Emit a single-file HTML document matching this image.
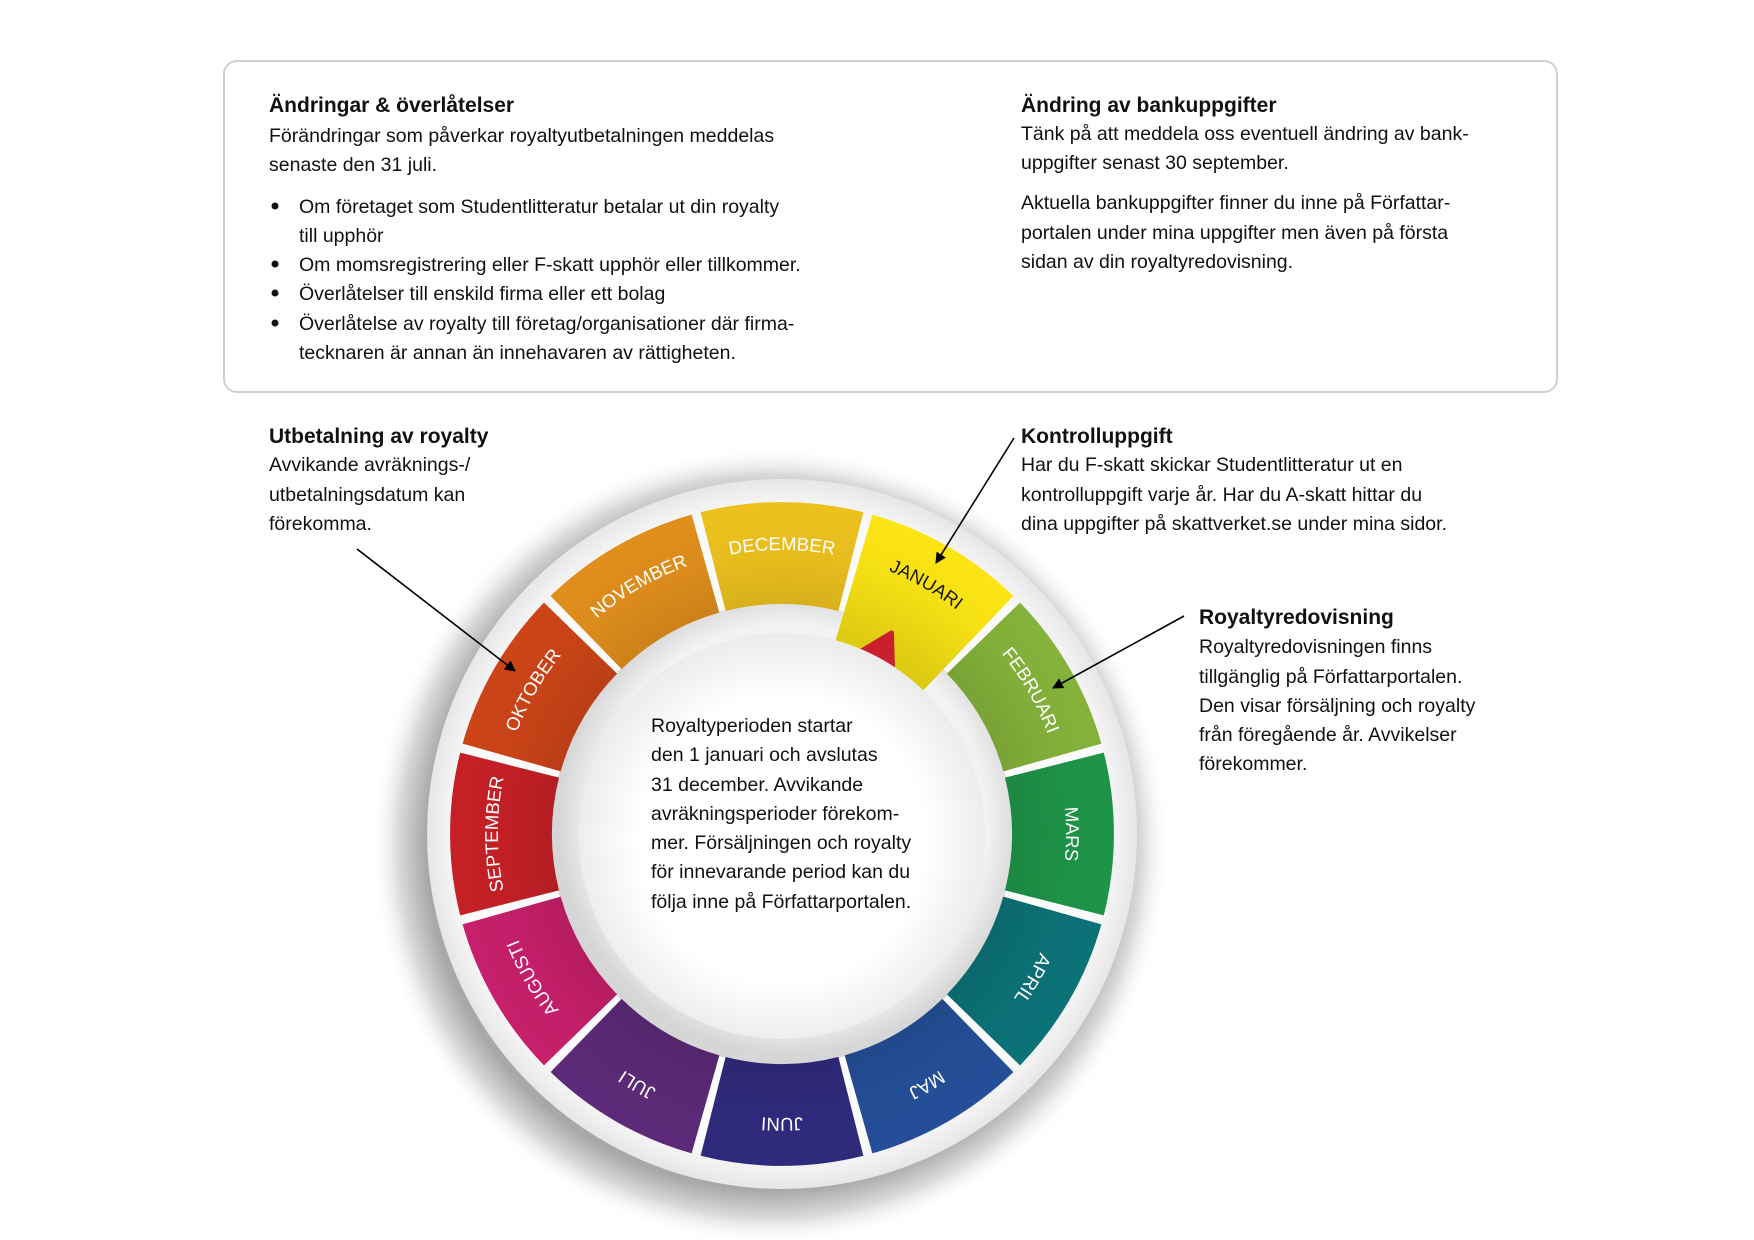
<!DOCTYPE html>
<html><head><meta charset="utf-8"><style>
html,body{margin:0;padding:0;background:#fff}
svg{display:block}
text{font-family:"Liberation Sans",sans-serif;fill:#111}
.b{font-size:19.5px}
.h{font-size:21px;font-weight:bold}
.m{font-size:18.5px;fill:#fff}
</style></head><body>
<svg width="1754" height="1240" viewBox="0 0 1754 1240" xmlns="http://www.w3.org/2000/svg">
<defs>
<radialGradient id="sh" gradientUnits="userSpaceOnUse" cx="770" cy="846" r="400">
<stop offset="0.86" stop-color="#a8a8a8"/><stop offset="0.93" stop-color="#dadada"/><stop offset="1" stop-color="#fff" stop-opacity="0"/>
</radialGradient>
<radialGradient id="ring" gradientUnits="userSpaceOnUse" cx="782" cy="834" r="356">
<stop offset="0.9" stop-color="#fbfbfb"/><stop offset="1" stop-color="#e6e6e6"/>
</radialGradient>
<radialGradient id="shade" gradientUnits="userSpaceOnUse" cx="782" cy="834" r="332">
<stop offset="0.62" stop-color="#000" stop-opacity="0.12"/><stop offset="0.85" stop-color="#000" stop-opacity="0.02"/><stop offset="1" stop-color="#000" stop-opacity="0"/>
</radialGradient>
<radialGradient id="gray" gradientUnits="userSpaceOnUse" cx="790" cy="822" r="232">
<stop offset="0.85" stop-color="#f2f2f2"/><stop offset="1" stop-color="#d6d6d6"/>
</radialGradient>
<radialGradient id="disc" gradientUnits="userSpaceOnUse" cx="782" cy="840" r="205">
<stop offset="0.7" stop-color="#fff"/><stop offset="1" stop-color="#ececec"/>
</radialGradient>
<path id="seg" d="M700.6,512.2 A332,332 0 0 1 863.4,512.2 L838.4,611.0 A230,230 0 0 0 725.6,611.0 Z"/>
<path id="segJ" d="M700.6,512.2 A332,332 0 0 1 863.4,512.2 L832.2,640 A200,200 0 0 0 731.8,640 Z"/>
<path id="arc" d="M708.4,559.7 A284,284 0 0 1 855.6,559.7"/>
<marker id="ar" viewBox="0 0 10 10" refX="9" refY="5" markerWidth="11" markerHeight="11" markerUnits="userSpaceOnUse" orient="auto">
<path d="M0,0 L10,5 L0,10 Z" fill="#000"/></marker>
</defs>

<rect x="224" y="61" width="1333" height="331" rx="13" fill="#fff" stroke="#d0d0d0" stroke-width="2"/>
<text class="h" x="269" y="112">Ändringar &amp; överlåtelser</text>
<text class="b" x="269" y="142">Förändringar som påverkar royaltyutbetalningen meddelas</text>
<text class="b" x="269" y="171">senaste den 31 juli.</text>
<circle cx="275" cy="206" r="3.5" fill="#111"/><circle cx="275" cy="264" r="3.5" fill="#111"/><circle cx="275" cy="293" r="3.5" fill="#111"/><circle cx="275" cy="323" r="3.5" fill="#111"/>
<text class="b" x="299" y="213">Om företaget som Studentlitteratur betalar ut din royalty</text>
<text class="b" x="299" y="242">till upphör</text>
<text class="b" x="299" y="271">Om momsregistrering eller F-skatt upphör eller tillkommer.</text>
<text class="b" x="299" y="300">Överlåtelser till enskild firma eller ett bolag</text>
<text class="b" x="299" y="330">Överlåtelse av royalty till företag/organisationer där firma-</text>
<text class="b" x="299" y="359">tecknaren är annan än innehavaren av rättigheten.</text>

<text class="h" x="1021" y="112">Ändring av bankuppgifter</text>
<text class="b" x="1021" y="140">Tänk på att meddela oss eventuell ändring av bank-</text>
<text class="b" x="1021" y="169">uppgifter senast 30 september.</text>
<text class="b" x="1021" y="209">Aktuella bankuppgifter finner du inne på Författar-</text>
<text class="b" x="1021" y="239">portalen under mina uppgifter men även på första</text>
<text class="b" x="1021" y="268">sidan av din royaltyredovisning.</text>

<text class="h" x="269" y="443">Utbetalning av royalty</text>
<text class="b" x="269" y="471">Avvikande avräknings-/</text>
<text class="b" x="269" y="501">utbetalningsdatum kan</text>
<text class="b" x="269" y="530">förekomma.</text>

<text class="h" x="1021" y="443">Kontrolluppgift</text>
<text class="b" x="1021" y="471">Har du F-skatt skickar Studentlitteratur ut en</text>
<text class="b" x="1021" y="501">kontrolluppgift varje år. Har du A-skatt hittar du</text>
<text class="b" x="1021" y="530">dina uppgifter på skattverket.se under mina sidor.</text>

<text class="h" x="1199" y="624">Royaltyredovisning</text>
<text class="b" x="1199" y="653">Royaltyredovisningen finns</text>
<text class="b" x="1199" y="683">tillgänglig på Författarportalen.</text>
<text class="b" x="1199" y="712">Den visar försäljning och royalty</text>
<text class="b" x="1199" y="741">från föregående år. Avvikelser</text>
<text class="b" x="1199" y="770">förekommer.</text>

<circle cx="770" cy="846" r="400" fill="url(#sh)"/>
<circle cx="782" cy="834" r="355" fill="url(#ring)"/>
<circle cx="782" cy="834" r="231" fill="url(#gray)"/>

<g>
<use href="#seg" fill="#ecc11e"/>
<use href="#segJ" fill="#fbe514" transform="rotate(30 782 834)"/>
<use href="#seg" fill="#84b23a" transform="rotate(60 782 834)"/>
<use href="#seg" fill="#1e9448" transform="rotate(90 782 834)"/>
<use href="#seg" fill="#0b7277" transform="rotate(120 782 834)"/>
<use href="#seg" fill="#244f98" transform="rotate(150 782 834)"/>
<use href="#seg" fill="#302a7d" transform="rotate(180 782 834)"/>
<use href="#seg" fill="#5c2a78" transform="rotate(210 782 834)"/>
<use href="#seg" fill="#c71f6b" transform="rotate(240 782 834)"/>
<use href="#seg" fill="#c52026" transform="rotate(270 782 834)"/>
<use href="#seg" fill="#cc4418" transform="rotate(300 782 834)"/>
<use href="#seg" fill="#e08e1c" transform="rotate(330 782 834)"/>
</g>
<g fill="url(#shade)">
<use href="#seg"/><use href="#segJ" transform="rotate(30 782 834)"/>
<use href="#seg" transform="rotate(60 782 834)"/><use href="#seg" transform="rotate(90 782 834)"/>
<use href="#seg" transform="rotate(120 782 834)"/><use href="#seg" transform="rotate(150 782 834)"/>
<use href="#seg" transform="rotate(180 782 834)"/><use href="#seg" transform="rotate(210 782 834)"/>
<use href="#seg" transform="rotate(240 782 834)"/><use href="#seg" transform="rotate(270 782 834)"/>
<use href="#seg" transform="rotate(300 782 834)"/><use href="#seg" transform="rotate(330 782 834)"/>
</g>

<path d="M860,649 L890,631 Q894,629 894,634 L895,672 Z" fill="#c8202f"/>
<circle cx="782" cy="836" r="203" fill="url(#disc)"/>

<g>
<text class="m" text-anchor="middle"><textPath href="#arc" startOffset="50%">DECEMBER</textPath></text>
<text class="m" text-anchor="middle" transform="rotate(30 782 834)" style="fill:#1a1a1a"><textPath href="#arc" startOffset="50%">JANUARI</textPath></text>
<text class="m" text-anchor="middle" transform="rotate(60 782 834)"><textPath href="#arc" startOffset="50%">FEBRUARI</textPath></text>
<text class="m" text-anchor="middle" transform="rotate(90 782 834)"><textPath href="#arc" startOffset="50%">MARS</textPath></text>
<text class="m" text-anchor="middle" transform="rotate(120 782 834)"><textPath href="#arc" startOffset="50%">APRIL</textPath></text>
<text class="m" text-anchor="middle" transform="rotate(150 782 834)"><textPath href="#arc" startOffset="50%">MAJ</textPath></text>
<text class="m" text-anchor="middle" transform="rotate(180 782 834)"><textPath href="#arc" startOffset="50%">JUNI</textPath></text>
<text class="m" text-anchor="middle" transform="rotate(210 782 834)"><textPath href="#arc" startOffset="50%">JULI</textPath></text>
<text class="m" text-anchor="middle" transform="rotate(240 782 834)"><textPath href="#arc" startOffset="50%">AUGUSTI</textPath></text>
<text class="m" text-anchor="middle" transform="rotate(270 782 834)"><textPath href="#arc" startOffset="50%">SEPTEMBER</textPath></text>
<text class="m" text-anchor="middle" transform="rotate(300 782 834)"><textPath href="#arc" startOffset="50%">OKTOBER</textPath></text>
<text class="m" text-anchor="middle" transform="rotate(330 782 834)"><textPath href="#arc" startOffset="50%">NOVEMBER</textPath></text>
</g>

<text class="b" x="651" y="732">Royaltyperioden startar</text>
<text class="b" x="651" y="761">den 1 januari och avslutas</text>
<text class="b" x="651" y="791">31 december. Avvikande</text>
<text class="b" x="651" y="820">avräkningsperioder förekom-</text>
<text class="b" x="651" y="849">mer. Försäljningen och royalty</text>
<text class="b" x="651" y="878">för innevarande period kan du</text>
<text class="b" x="651" y="908">följa inne på Författarportalen.</text>

<g stroke="#000" stroke-width="1.6" fill="none">
<line x1="357" y1="549" x2="515" y2="671" marker-end="url(#ar)"/>
<line x1="1014" y1="438" x2="936" y2="563" marker-end="url(#ar)"/>
<line x1="1184" y1="616" x2="1053" y2="688" marker-end="url(#ar)"/>
</g>
</svg>
</body></html>
